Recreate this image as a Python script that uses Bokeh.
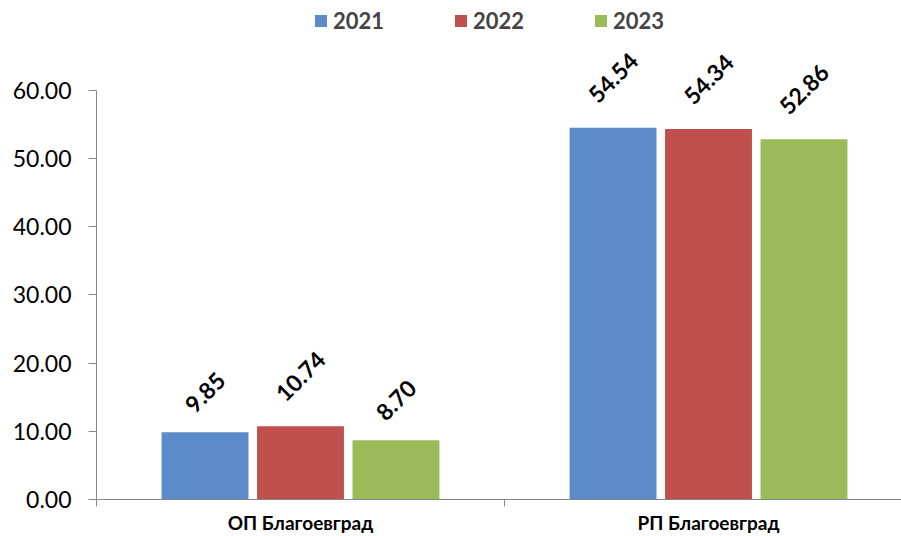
import numpy as np
from bokeh.plotting import figure
from bokeh.core.properties import value
from bokeh.models import (ColumnDataSource, FixedTicker, NumeralTickFormatter,
                          LabelSet, Legend, LegendItem, Range1d)
from bokeh.embed import file_html
from bokeh.resources import INLINE

categories = ["ОП Благоевград", "РП Благоевград"]
years = ["2021", "2022", "2023"]
values_2021 = [9.85, 54.54]
values_2022 = [10.74, 54.34]
values_2023 = [8.70, 52.86]
y_ticks = [0, 10, 20, 30, 40, 50, 60]

series = [values_2021, values_2022, values_2023]
colors = ["#5B8BC9", "#C0504D", "#9BBB59"]

FONT = "Lato"

p = figure(width=901, height=536, output_backend="svg", toolbar_location=None,
           x_range=Range1d(0, 1.973), y_range=Range1d(0, 73.2),
           min_border_left=96, min_border_right=0, min_border_top=0,
           min_border_bottom=37)
p.outline_line_color = None
p.xgrid.visible = False
p.ygrid.visible = False
p.background_fill_color = "white"

n = len(categories)
offsets = [-0.234, 0.0, 0.234]
bar_w = 0.213
items = []
for yr, vals, col, off in zip(years, series, colors, offsets):
    xs = np.arange(n) + 0.5 + off
    labels = ["%.2f" % v for v in vals]
    src = ColumnDataSource(dict(x=xs, top=vals, label=labels,
                                yoff=[10 * len(t) for t in labels]))
    r = p.vbar(x="x", top="top", width=bar_w, bottom=0, source=src,
               fill_color=col, line_color=None)
    items.append(LegendItem(label=yr, renderers=[r]))
    ls = LabelSet(x="x", y="top", text="label", source=src, y_offset="yoff",
                  angle=np.pi / 4, text_align="center", text_baseline="middle",
                  text_font=value(FONT), text_font_style="bold",
                  text_font_size="23px", text_color="black")
    p.add_layout(ls)

# y axis
ya = p.yaxis[0]
ya.bounds = (0, 60)
ya.ticker = FixedTicker(ticks=y_ticks)
ya.formatter = NumeralTickFormatter(format="0.00")
ya.major_tick_out = 8
ya.major_tick_in = 0
ya.minor_tick_out = 0
ya.minor_tick_in = 0
ya.axis_line_color = "#868686"
ya.major_tick_line_color = "#868686"
ya.major_label_text_font = FONT
ya.major_label_text_font_size = "23px"
ya.major_label_text_color = "black"
ya.major_label_standoff = 17

# x axis
xa = p.xaxis[0]
centers = [i + 0.5 for i in range(n)]
xa.ticker = FixedTicker(ticks=centers, minor_ticks=list(range(n + 1)))
xa.major_label_overrides = {c: cat for c, cat in zip(centers, categories)}
xa.major_tick_out = 0
xa.major_tick_in = 0
xa.minor_tick_out = 7
xa.minor_tick_in = 0
xa.minor_tick_line_color = "#868686"
xa.axis_line_color = "#868686"
xa.major_label_text_font = FONT
xa.major_label_text_font_style = "bold"
xa.major_label_text_font_size = "19px"
xa.major_label_text_color = "black"
xa.major_label_standoff = 4

legend = Legend(items=items, orientation="horizontal", location=(217, 465),
                glyph_width=15, glyph_height=15, label_standoff=5, spacing=69,
                padding=0, margin=0, border_line_color=None,
                background_fill_alpha=0, label_text_font=FONT,
                label_text_font_style="bold", label_text_font_size="22px",
                label_height=22)
p.add_layout(legend, "center")

open("out.html", "w").write(file_html(p, INLINE))
